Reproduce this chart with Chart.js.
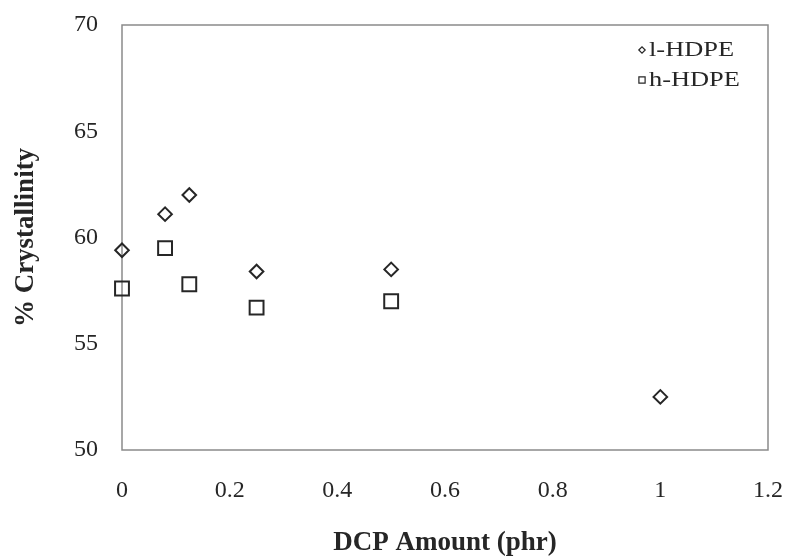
<!DOCTYPE html>
<html>
<head>
<meta charset="utf-8">
<script src="https://cdn.jsdelivr.net/npm/chart.js@4.4.1/dist/chart.umd.min.js"></script>
<style>
  html, body { margin: 0; padding: 0; background: #ffffff; }
  #wrap { width: 787px; height: 557px; }
</style>
</head>
<body>
<div id="wrap"><canvas id="c" width="787" height="557"></canvas></div>
<script>
// DCP amount (phr) and crystallinity (%) for the two HDPE grades
const dcpLow = [0, 0.08, 0.125, 0.25, 0.5, 1.0];
const crystLow = [59.4, 61.1, 62.0, 58.4, 58.5, 52.5];

const dcpHigh = [0, 0.08, 0.125, 0.25, 0.5];
const crystHigh = [57.6, 59.5, 57.8, 56.7, 57.0];

const seriesNames = ['l-HDPE', 'h-HDPE'];
const xTickValues = [0, 0.2, 0.4, 0.6, 0.8, 1, 1.2];
const yTickValues = [50, 55, 60, 65, 70];

const toPoints = (xs, ys) => xs.map((x, i) => ({ x: x, y: ys[i] }));

const ink = '#262626';
const serif = "'Liberation Serif', 'Times New Roman', serif";

// Box around the plotting area
const frame = {
  id: 'frame',
  beforeDatasetsDraw(chart) {
    const a = chart.chartArea, ctx = chart.ctx;
    ctx.save();
    ctx.strokeStyle = '#8a8a8a';
    ctx.lineWidth = 1.5;
    ctx.strokeRect(a.left, a.top, a.right - a.left, a.bottom - a.top);
    ctx.restore();
  }
};

// Small legend in the upper right corner of the plot
const cornerLegend = {
  id: 'cornerLegend',
  afterDraw(chart) {
    const a = chart.chartArea, ctx = chart.ctx;
    const x0 = a.right - 126, y0 = a.top + 25, gap = 30;
    const radii = [3.2, 4.4];
    chart.data.datasets.forEach((ds, i) => {
      const y = y0 + i * gap;
      ctx.save();
      ctx.strokeStyle = ink;
      ctx.fillStyle = '#ffffff';
      ctx.lineWidth = 1.2;
      Chart.helpers.drawPoint(ctx, { pointStyle: ds.pointStyle, radius: radii[i], rotation: 0, borderWidth: 1.2 }, x0, y);
      ctx.restore();
      ctx.save();
      ctx.fillStyle = ink;
      ctx.font = "20px " + serif;
      ctx.textBaseline = 'middle';
      ctx.translate(x0 + 7, y + 1);
      ctx.scale(1.32, 1);
      ctx.fillText(ds.label, 0, 0);
      ctx.restore();
    });
  }
};

new Chart(document.getElementById('c'), {
  type: 'scatter',
  data: {
    datasets: [
      {
        label: seriesNames[0],
        data: toPoints(dcpLow, crystLow),
        pointStyle: 'rectRot',
        pointRadius: 6.8,
        pointBorderWidth: 2,
        borderColor: ink,
        backgroundColor: 'rgba(255,255,255,0)',
        clip: false
      },
      {
        label: seriesNames[1],
        data: toPoints(dcpHigh, crystHigh),
        pointStyle: 'rect',
        pointRadius: 9.8,
        pointBorderWidth: 2,
        borderColor: ink,
        backgroundColor: 'rgba(255,255,255,0)',
        clip: false
      }
    ]
  },
  options: {
    responsive: false,
    animation: false,
    layout: { padding: { left: 0, top: 25, right: 19, bottom: 0 } },
    plugins: {
      legend: { display: false },
      tooltip: { enabled: false }
    },
    scales: {
      x: {
        type: 'linear',
        min: 0,
        max: 1.2,
        afterBuildTicks(scale) { scale.ticks = xTickValues.map(v => ({ value: v })); },
        afterFit(scale) {
          scale.height = 107;
          scale.paddingLeft = 0;
          scale.paddingRight = 0;
        },
        grid: { display: false, drawTicks: false },
        border: { display: false },
        ticks: {
          padding: 26,
          color: ink,
          font: { family: serif, size: 24 },
          maxRotation: 0,
          callback: v => String(v)
        },
        title: {
          display: true,
          text: 'DCP Amount (phr)',
          color: ink,
          font: { family: serif, size: 27, weight: 'bold', lineHeight: 1 },
          padding: 0
        }
      },
      y: {
        type: 'linear',
        min: 50,
        max: 70,
        afterBuildTicks(scale) { scale.ticks = yTickValues.map(v => ({ value: v })); },
        afterFit(scale) {
          scale.width = 122;
          scale.paddingTop = 0;
          scale.paddingBottom = 0;
        },
        grid: { display: false, drawTicks: false },
        border: { display: false },
        ticks: {
          padding: 24,
          color: ink,
          font: { family: serif, size: 24 }
        },
        title: {
          display: true,
          text: '% Crystallinity',
          color: ink,
          font: { family: serif, size: 27, weight: 'bold', lineHeight: 1 },
          padding: 13
        }
      }
    }
  },
  plugins: [frame, cornerLegend]
});
</script>
</body>
</html>
